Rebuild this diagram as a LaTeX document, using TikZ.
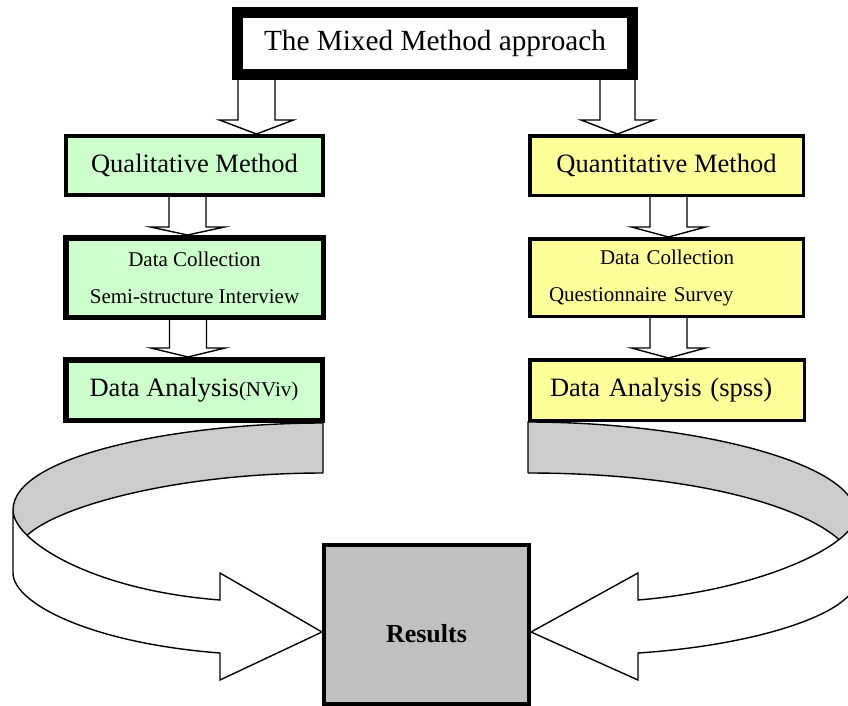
\documentclass[tikz,border=0pt]{standalone}
\usepackage{fontspec}
\setmainfont{Liberation Serif}
\usetikzlibrary{calc}

\definecolor{qualgreen}{HTML}{CCFFCC}
\definecolor{quantyellow}{HTML}{FFFF99}
\definecolor{resgray}{HTML}{C0C0C0}
\definecolor{bandgray}{HTML}{CCCCCC}

\tikzset{
  methbox/.style={draw=black, rectangle, inner sep=0pt},
  qualbox/.style={methbox, fill=qualgreen},
  quantbox/.style={methbox, fill=quantyellow},
  blockarr/.style={draw=black, fill=white, line width=1.4pt, line join=miter},
  bandline/.style={draw=black, line width=1.4pt},
  bigfont/.style={font=\fontsize{26.5}{30}\selectfont},
  smallfont/.style={font=\fontsize{21}{37}\selectfont},
}

% block arrow: start, target (y only), half shaft, half head, head length
\newcommand{\blockarrow}[5]{%
  \draw[blockarr] let \p1=(#1), \p2=(#2) in
    (\x1-#3pt,\y1) -- (\x1-#3pt,\y2+#5pt) -- (\x1-#4pt,\y2+#5pt) -- (\x1,\y2)
    -- (\x1+#4pt,\y2+#5pt) -- (\x1+#3pt,\y2+#5pt) -- (\x1+#3pt,\y1);
}

\begin{document}
\begin{tikzpicture}[x=1pt, y=-1pt]
 \useasboundingbox (0,0) rectangle (848,705);
 \clip (0,0) rectangle (848,705);

 %top
 \node[methbox, line width=11pt, minimum width=395pt, minimum height=62pt,
       font=\fontsize{29.25}{32}\selectfont] (mixed) at (435,43.5) {The Mixed Method approach};

 %level 1
 \node[qualbox, line width=4pt, minimum width=257pt, minimum height=59pt, bigfont]
      (qual) at (194.5,165.5) {Qualitative Method};
 \node[quantbox, line width=3.5pt, minimum width=273.5pt, minimum height=59.5pt, bigfont]
      (quant) at (666.5,165.5) {Quantitative Method};

 %level 2
 \node[qualbox, line width=5.5pt, minimum width=257.5pt, minimum height=79.5pt, smallfont, align=center]
      (qualcol) at (194.5,277.5) {Data Collection\\Semi-structure Interview};
 \node[quantbox, line width=3.5pt, minimum width=273.5pt, minimum height=77.5pt, smallfont,
       align=left, text width=235pt, inner xsep=19.25pt]
      (quantcol) at (666.5,277.5) {\hspace*{51pt}Data Collection\\Questionnaire Survey};

 %level 3
 \node[qualbox, line width=5.5pt, minimum width=256.5pt, minimum height=60.5pt]
      (qualana) at (194,390) {\fontsize{26.5}{30}\selectfont Data Analysis\fontsize{21}{25}\selectfont(NViv)};
 \node[quantbox, line width=3.5pt, minimum width=274.5pt, minimum height=60.5pt, bigfont,
       align=left, text width=234pt, inner xsep=20.25pt]
      (quantana) at (667,390) {Data Analysis (spss)};

 %results
 \node[methbox, fill=resgray, line width=4pt, minimum width=205pt, minimum height=158.5pt,
       text height=36pt, font=\bfseries\fontsize{26}{28}\selectfont]
      (res) at (426.5,624.5) {Results};

 %arrows
 \blockarrow{[xshift=24.5pt]mixed.south west}{qual.north}{18.5}{37}{14}
 \blockarrow{[xshift=-20.5pt]mixed.south east}{quant.north}{17.5}{36.5}{14}
 \foreach \src/\dx/\dst/\hl in {qual/-7/qualcol/8, qualcol/-6.5/qualana/9,
                                quant/2/quantcol/10, quantcol/2/quantana/10} {
   \blockarrow{[xshift=\dx pt]\src.south}{\dst.north}{18.5}{37}{\hl}
 }

 %left band
 \coordinate (la) at ([xshift=-2pt]qualana.south east);
 \coordinate (lb) at ($(la)+(0,50)$);
 \coordinate (ltip) at ([yshift=-7.5pt]res.west);
 \path (13,510) .. controls (13,540) and (90,590) .. (220,600) coordinate[pos=0.25] (lc);
 \fill[bandgray] (la) .. controls (180,423) and (13,455) .. (13,510) -- (13,560) -- (lc)
       .. controls (60,505) and (180,473) .. (lb) -- cycle;
 \draw[bandline] (lb) -- (la) .. controls (180,423) and (13,455) .. (13,510);
 \draw[bandline] (lb) .. controls (180,473) and (60,505) .. (lc);
 \filldraw[blockarr] (13,510) -- (13,573) .. controls (13,603) and (90,643) .. (220,653)
       -- (220,680) -- (ltip) -- (220,573) -- (220,600)
       .. controls (90,590) and (13,540) .. (13,510) -- cycle;

 %right band
 \coordinate (ra) at (quantana.south west);
 \coordinate (rb) at ($(ra)+(0,51)$);
 \coordinate (rtip) at ([yshift=-7.5pt]res.east);
 \path (856,515) .. controls (856,545) and (760,590) .. (638,600) coordinate[pos=0.25] (rc);
 \fill[bandgray] (ra) .. controls (690,422) and (856,462) .. (856,515) -- (856,560) -- (rc)
       .. controls (800,505) and (690,473) .. (rb) -- cycle;
 \draw[bandline] (rb) -- (ra) .. controls (690,422) and (856,462) .. (856,515);
 \draw[bandline] (rb) .. controls (690,473) and (800,505) .. (rc);
 \filldraw[blockarr] (856,515) -- (856,580) .. controls (856,612) and (760,645) .. (638,653)
       -- (638,680) -- (rtip) -- (638,573) -- (638,600)
       .. controls (760,590) and (856,545) .. (856,515) -- cycle;

\end{tikzpicture}
\end{document}
